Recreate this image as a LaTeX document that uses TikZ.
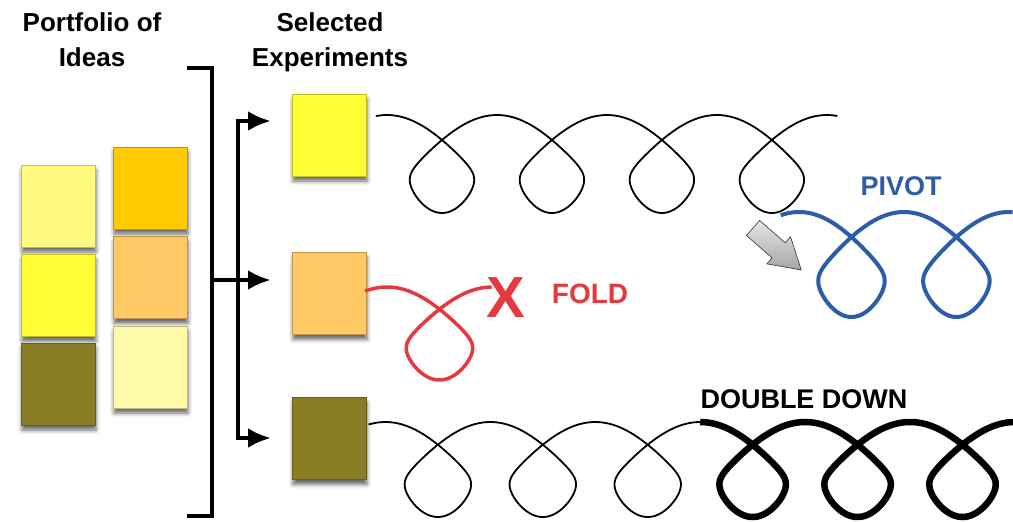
\documentclass[tikz,border=0pt]{standalone}
\usepackage{fontspec}
\setmainfont{Liberation Sans}
\usetikzlibrary{arrows.meta,shadows.blur}
\definecolor{paleyellow}{HTML}{FFFB80}
\definecolor{brightyellow}{HTML}{FFFC33}
\definecolor{olive}{HTML}{8B7D26}
\definecolor{gold}{HTML}{FFCB00}
\definecolor{apricot}{HTML}{FFC966}
\definecolor{cream}{HTML}{FFF9AA}
\definecolor{foldred}{HTML}{E8383F}
\definecolor{pivotblue}{HTML}{2C5DAA}
\begin{document}
\begin{tikzpicture}[x=1pt,y=-1pt,
	declare function={lift(\s)=(1-cos(\s r))/2+(sin(\s r))^2*(0.067+0.19*cos(\s r));},
	idea/.style={draw=#1!75!black, line width=0.6pt, fill=#1, minimum width=74pt, minimum height=82pt, inner sep=0pt,
		blur shadow={shadow xshift=1pt, shadow yshift=-5pt, shadow blur radius=4pt, shadow opacity=60}},
	header/.style={font=\bfseries\fontsize{26}{35}\selectfont, align=center, inner sep=0pt, anchor=north},
	tag/.style={font=\bfseries\fontsize{#1}{#1}\selectfont, inner sep=0pt, anchor=base},
	bar/.style={line width=4.5pt, line join=miter},
	fork/.style={bar, -{Latex[length=23pt,width=20pt]}}]
	\useasboundingbox (0,0) rectangle (1013,522);
	% headings
	\node[header] (portfolio) at (92,12) {Portfolio of\\Ideas};
	\node[header] (selected) at (330,12) {Selected\\Experiments};
	% portfolio of ideas
	\node[idea=paleyellow] (p1) at (58,206) {};
	\node[idea=brightyellow] (p2) at (58,295.5) {};
	\node[idea=olive] (p3) at (58,384) {};
	\node[idea=gold] (p4) at (150,188) {};
	\node[idea=apricot] (p5) at (150,277.5) {};
	\node[idea=cream] (p6) at (150,367) {};
	% selected experiments
	\node[idea=brightyellow] (e1) at (329,135) {};
	\node[idea=apricot] (e2) at (329,293.5) {};
	\node[idea=olive] (e3) at (329,438.5) {};
	% bracket and branches
	\draw[bar] (187,68) -- (212,68) -- (212,516) -- (187,516);
	\coordinate (brk) at (212,280);
	\coordinate (split) at (238,280);
	\coordinate (tip1) at (271,121);
	\coordinate (tip2) at (271,280);
	\coordinate (tip3) at (271,438);
	\draw[bar] (brk) -- (split);
	\draw[fork] (split) |- (tip1);
	\draw[fork] (split) -- (tip2);
	\draw[fork] (split) |- (tip3);
	% top experiment
	\draw[line width=1.8pt] plot[domain=-0.15:25.28, samples=500, smooth, variable=\t]
		({387+17.5*\t+57*sin(\t r)}, {115+98*lift(\t)});
	% pivot
	\draw[pivotblue, line width=4pt] plot[domain=-0.25:12.62, samples=260, smooth, variable=\t]
		({799+16.7*\t+57*sin(\t r)}, {212+105*lift(\t)});
	\node[tag=27, text=pivotblue] (pivot) at (901,195) {PIVOT};
	\begin{scope}[shift={(753,228)}, rotate=-41]
		\shade[top color=gray!20, bottom color=gray!70, draw=gray!40!black, line width=0.6pt]
			(0,-10) -- (34,-10) -- (34,-18) -- (64,0) -- (34,18) -- (34,10) -- (0,10) -- cycle;
	\end{scope}
	% fold
	\draw[foldred, line width=3.5pt] plot[domain=-0.3:6.28, samples=140, smooth, variable=\t]
		({387+16.7*\t+57*sin(\t r)}, {287+93*lift(\t)});
	\node[tag=58, text=foldred] (cross) at (505.5,317) {X};
	\node[tag=28, text=foldred] (fold) at (590,303) {FOLD};
	% double down
	\draw[line width=1.8pt] plot[domain=-0.23:18.85, samples=380, smooth, variable=\t]
		({385.4+16.7*\t+57*sin(\t r)}, {422+95*lift(\t)});
	\draw[line width=6.5pt] plot[domain=18.85:37.7, samples=380, smooth, variable=\t]
		({385.4+16.7*\t+57*sin(\t r)}, {422+95*lift(\t)});
	\node[tag=27] (double) at (804,408) {DOUBLE DOWN};
\end{tikzpicture}
\end{document}
